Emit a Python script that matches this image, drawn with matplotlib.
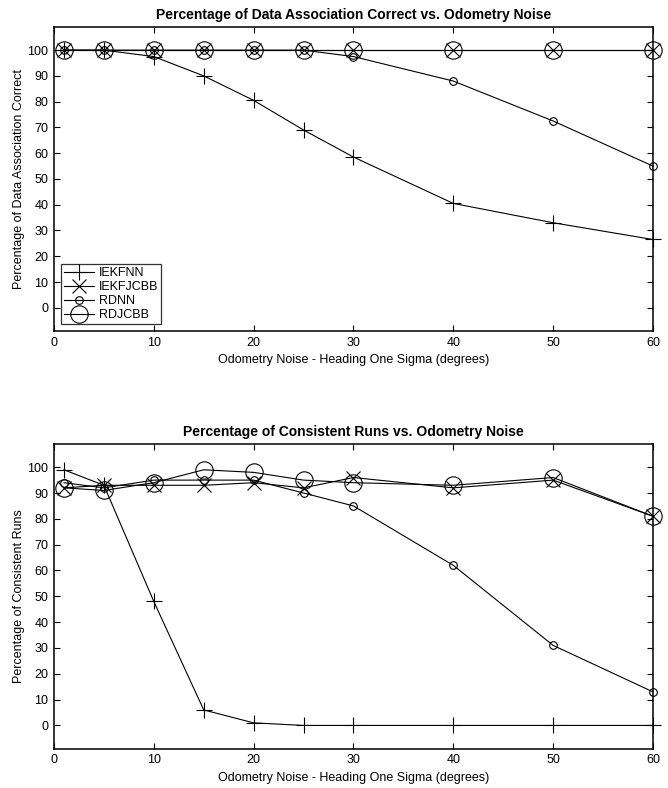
import numpy as np
import matplotlib
matplotlib.use('Agg')
import matplotlib.pyplot as plt

# data
noise = [1, 5, 10, 15, 20, 25, 30, 40, 50, 60]

# percentage of data association correct
da_iekfnn = [100, 100, 97.5, 90, 80.5, 69, 58.5, 40.5, 33, 26.5]
da_iekfjcbb = [100, 100, 100, 100, 100, 100, 100, 100, 100, 100]
da_rdnn = [100, 100, 100, 100, 100, 100, 97.5, 88, 72.5, 55]
da_rdjcbb = [100, 100, 100, 100, 100, 100, 100, 100, 100, 100]

# percentage of consistent runs
cr_iekfnn = [99, 93, 48, 6, 1, 0, 0, 0, 0, 0]
cr_iekfjcbb = [92, 93, 93, 93, 94, 92, 96, 92, 95, 81]
cr_rdnn = [94, 92, 95, 95, 95, 90, 85, 62, 31, 13]
cr_rdjcbb = [92, 91, 94, 99, 98, 95, 94, 93, 96, 81]

series_names = ['IEKFNN', 'IEKFJCBB', 'RDNN', 'RDJCBB']

plt.rcParams['font.family'] = ['Liberation Sans', 'DejaVu Sans']
plt.rcParams['font.size'] = 9

fig = plt.figure(figsize=(6.68, 7.88), dpi=100)

styles = [dict(marker='+', markersize=12, markeredgewidth=0.8),
          dict(marker='x', markersize=10, markeredgewidth=0.8),
          dict(marker='o', markersize=5.5, markeredgewidth=0.8, fillstyle='none'),
          dict(marker='o', markersize=12.5, markeredgewidth=0.8, fillstyle='none')]


def draw(ax, data, title, ylabel, legend=False):
    for vals, name, st in zip(data, series_names, styles):
        ax.plot(noise, vals, color='black', linewidth=0.8, label=name,
                clip_on=False, **st)
    ax.set_xlim(0, 60)
    ax.set_ylim(-9, 109)
    ax.set_xticks(np.arange(0, 61, 10))
    ax.set_yticks(np.arange(0, 101, 10))
    ax.tick_params(direction='in', length=4, width=0.8, top=True, right=True,
                   labelsize=9, pad=4)
    for s in ax.spines.values():
        s.set_linewidth(1.1)
    ax.set_title(title, fontsize=10, fontweight='bold', pad=6)
    ax.set_xlabel('Odometry Noise - Heading One Sigma (degrees)', fontsize=9, labelpad=4)
    ax.set_ylabel(ylabel, fontsize=9, labelpad=2)
    if legend:
        leg = ax.legend(loc='lower left', bbox_to_anchor=(0.005, 0.01), frameon=True,
                        fancybox=False, edgecolor='black', fontsize=9,
                        handlelength=2.4, handletextpad=0.4, labelspacing=0.15,
                        borderpad=0.25, borderaxespad=0.3)
        leg.get_frame().set_linewidth(0.9)


ax1 = fig.add_axes([0.0808, 0.580, 0.8967, 0.3858])
draw(ax1, [da_iekfnn, da_iekfjcbb, da_rdnn, da_rdjcbb],
     'Percentage of Data Association Correct vs. Odometry Noise',
     'Percentage of Data Association Correct', legend=True)

ax2 = fig.add_axes([0.0808, 0.0499, 0.8967, 0.3867])
draw(ax2, [cr_iekfnn, cr_iekfjcbb, cr_rdnn, cr_rdjcbb],
     'Percentage of Consistent Runs vs. Odometry Noise',
     'Percentage of Consistent Runs')

fig.savefig('out.png', dpi=100)
